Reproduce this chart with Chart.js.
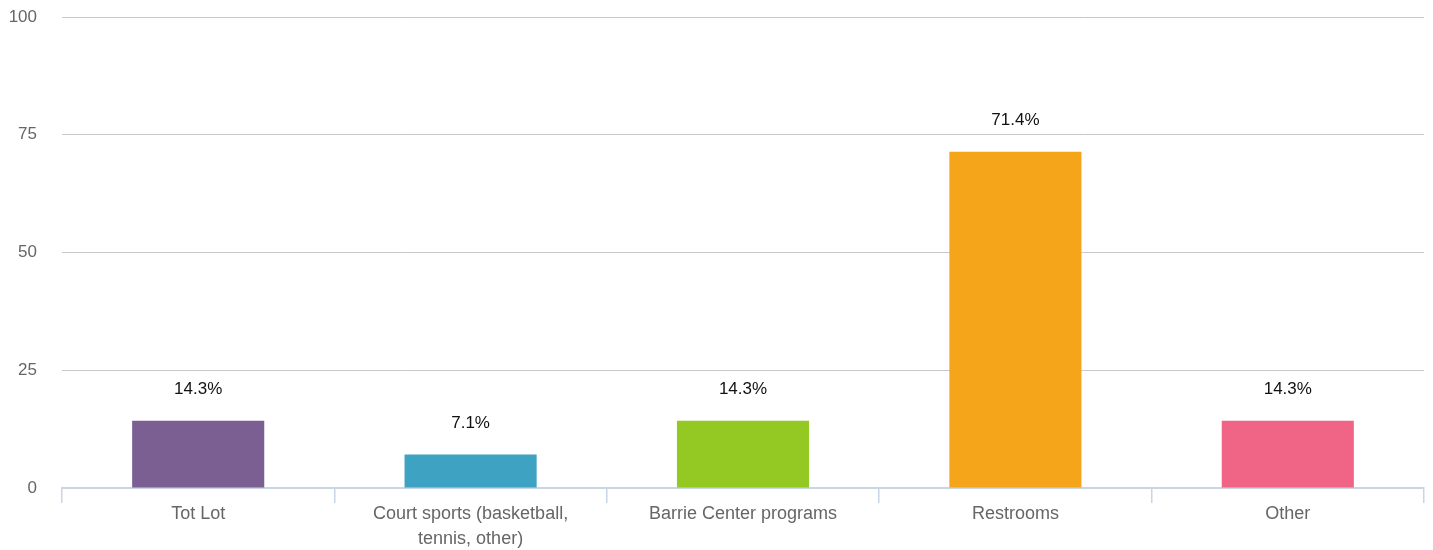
<!DOCTYPE html>
<html>
<head>
<meta charset="utf-8">
<script src="https://cdn.jsdelivr.net/npm/chart.js@4"></script>
<style>
  html, body { margin: 0; padding: 0; background: #fff; }
  #wrap { width: 1433px; height: 550px; }
</style>
</head>
<body>
<div id="wrap"><canvas id="chart"></canvas></div>
<script>
const categories = ['Tot Lot', ['Court sports (basketball,', 'tennis, other)'], 'Barrie Center programs', 'Restrooms', 'Other'];
const percentValues = [14.3, 7.1, 14.3, 71.4, 14.3];
const barColors = ['#7b5e92', '#3ea2c3', '#94c823', '#f4a519', '#f06585'];
const yTicks = [0, 25, 50, 75, 100];

const fontFamily = '"Liberation Sans", Arial, Helvetica, sans-serif';

// draw "xx.x%" above each bar
const valueLabels = {
    id: 'valueLabels',
    afterDatasetsDraw(chart) {
        const ctx = chart.ctx;
        const meta = chart.getDatasetMeta(0);
        ctx.save();
        ctx.font = '17px ' + fontFamily;
        ctx.fillStyle = '#111';
        ctx.textAlign = 'center';
        ctx.textBaseline = 'middle';
        meta.data.forEach((bar, i) => {
            ctx.fillText(percentValues[i].toFixed(1) + '%', bar.x, bar.y - 31);
        });
        ctx.restore();
    }
};

new Chart(document.getElementById('chart'), {
    type: 'bar',
    data: {
        labels: categories,
        datasets: [{
            data: percentValues,
            backgroundColor: barColors,
            borderWidth: 0,
            categoryPercentage: 1,
            barPercentage: 0.485
        }]
    },
    options: {
        responsive: true,
        maintainAspectRatio: false,
        animation: false,
        layout: { padding: { top: 17, right: 9, left: 0, bottom: 0 } },
        plugins: {
            legend: { display: false },
            tooltip: { enabled: false }
        },
        scales: {
            y: {
                min: 0,
                max: 100,
                afterBuildTicks(scale) {
                    scale.ticks = yTicks.map(v => ({ value: v }));
                },
                afterFit(scale) {
                    scale.width = 62;
                    scale.paddingTop = 0;
                },
                border: { display: false },
                grid: { color: '#c8c8c8', drawTicks: false, lineWidth: 1 },
                ticks: {
                    padding: 25,
                    color: '#666',
                    font: { size: 17, family: fontFamily }
                }
            },
            x: {
                afterFit(scale) { scale.height = 62; },
                border: { display: true, color: '#c9d5e4', width: 2 },
                grid: {
                    drawOnChartArea: false,
                    color: '#c9d5e4',
                    tickLength: 15,
                    lineWidth: 1.5
                },
                ticks: {
                    padding: -2,
                    color: '#666',
                    maxRotation: 0,
                    font: { size: 18, family: fontFamily, lineHeight: 1.4 }
                }
            }
        }
    },
    plugins: [valueLabels]
});
</script>
</body>
</html>
